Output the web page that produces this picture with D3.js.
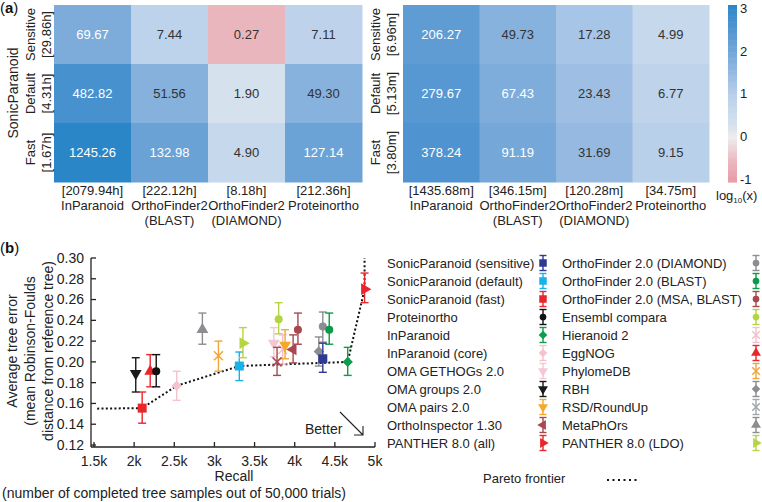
<!DOCTYPE html>
<html><head><meta charset="utf-8">
<script src="https://cdn.jsdelivr.net/npm/d3@7"></script>
<style>body{margin:0;background:#fff} svg{font-family:"Liberation Sans",Arial,Helvetica,sans-serif}</style>
</head><body><svg id="c" width="762" height="502"></svg>
<script>
// ---------- DATA ----------
const rowNames = ["Sensitive", "Default", "Fast"];
const colNames = [["InParanoid"], ["OrthoFinder2", "(BLAST)"], ["OrthoFinder2", "(DIAMOND)"], ["Proteinortho"]];
const leftRowTimes = ["[29.86h]", "[4.31h]", "[1.67h]"];
const leftColTimes = ["[2079.94h]", "[222.12h]", "[8.18h]", "[212.36h]"];
const leftValues = [[69.67, 7.44, 0.27, 7.11], [482.82, 51.56, 1.90, 49.30], [1245.26, 132.98, 4.90, 127.14]];
const rightRowTimes = ["[6.96m]", "[5.13m]", "[3.80m]"];
const rightColTimes = ["[1435.68m]", "[346.15m]", "[120.28m]", "[34.75m]"];
const rightValues = [[206.27, 49.73, 17.28, 4.99], [279.67, 67.43, 23.43, 6.77], [378.24, 91.19, 31.69, 9.15]];
const colorTicks = [-1, 0, 1, 2, 3];

const legendCol1 = ["SonicParanoid (sensitive)", "SonicParanoid (default)", "SonicParanoid (fast)", "Proteinortho", "InParanoid", "InParanoid (core)", "OMA GETHOGs 2.0", "OMA groups 2.0", "OMA pairs 2.0", "OrthoInspector 1.30", "PANTHER 8.0 (all)"];
const legendCol2 = ["OrthoFinder 2.0 (DIAMOND)", "OrthoFinder 2.0 (BLAST)", "OrthoFinder 2.0 (MSA, BLAST)", "Ensembl compara", "Hieranoid 2", "EggNOG", "PhylomeDB", "RBH", "RSD/RoundUp", "MetaPhOrs", "PANTHER 8.0 (LDO)"];
const legendMarkers1 = ["navySquare", "cyanSquare", "redSquare", "blackCircle", "greenDiamond", "pinkDiamond", "paleDown", "blackDown", "orangeDown", "brownLeft", "redRight"];
const legendMarkers2 = ["greyCircle", "greenCircle", "brownCircle", "ygCircle", "pinkX", "redUp", "orangeX", "greyDiamond", "greyX", "greyUp", "ygRight"];

const pointMarker = ["blackDown", "redUp", "blackCircle", "redSquare", "pinkDiamond", "greyUp", "orangeX", "cyanSquare", "ygRight", "ygCircle", "paleDown", "pinkX", "orangeDown", "brownX", "brownLeft", "brownCircle", "greyCircle", "greenCircle", "greyDiamond", "navySquare", "greenDiamond", "redRight"];
const pointRecall = [2020, 2200, 2275, 2100, 2530, 2850, 3050, 3310, 3355, 3800, 3740, 3850, 3880, 3780, 3980, 4040, 4350, 4430, 4300, 4350, 4660, 4870];
const pointError = [0.189, 0.191, 0.191, 0.1555, 0.177, 0.231, 0.206, 0.196, 0.218, 0.241, 0.218, 0.212, 0.216, 0.200, 0.212, 0.231, 0.234, 0.231, 0.210, 0.203, 0.200, 0.270];
const pointErrLow = [0.171, 0.176, 0.176, 0.141, 0.163, 0.217, 0.191, 0.182, 0.204, 0.227, 0.205, 0.198, 0.203, 0.187, 0.199, 0.217, 0.219, 0.217, 0.196, 0.190, 0.187, 0.257];
const pointErrHigh = [0.204, 0.207, 0.207, 0.171, 0.191, 0.247, 0.220, 0.2095, 0.233, 0.257, 0.233, 0.226, 0.231, 0.214, 0.226, 0.247, 0.248, 0.247, 0.224, 0.218, 0.214, 0.2855];

const paretoRecall = [1540, 2100, 2530, 3310, 4660, 4870, 4870];
const paretoError = [0.155, 0.1555, 0.177, 0.196, 0.200, 0.270, 0.300];

const xTicks = [1500, 2000, 2500, 3000, 3500, 4000, 4500, 5000];
const yTicks = [0.12, 0.14, 0.16, 0.18, 0.20, 0.22, 0.24, 0.26, 0.28, 0.30];

// ---------- STYLES ----------
const markerStyles = {
  navySquare: ["square", "#2d3a92"], cyanSquare: ["square", "#19b1ea"], redSquare: ["square", "#e8262b"],
  blackCircle: ["circle", "#111111"], greenDiamond: ["diamond", "#0e9d4c"], pinkDiamond: ["diamond", "#f5c3cd"],
  paleDown: ["down", "#f4c8d2"], blackDown: ["down", "#1a1a1a"], orangeDown: ["down", "#f5a82a"],
  brownLeft: ["left", "#a8474f"], redRight: ["right", "#e8262b"],
  greyCircle: ["circle", "#8b8d90"], greenCircle: ["circle", "#0a9a48"], brownCircle: ["circle", "#a8474f"],
  ygCircle: ["circle", "#b3d443"], pinkX: ["x", "#f2bfcb"], redUp: ["up", "#e8262b"], orangeX: ["x", "#f1a43c"],
  greyDiamond: ["diamond", "#8b8d90"], greyX: ["x", "#a2a6ab"], greyUp: ["up", "#8b8d90"], ygRight: ["right", "#b5d543"],
  brownX: ["x", "#a8474f"]
};

function shapePath(shape, s) {
  const r = s / 2;
  if (shape === "square") return d3.symbol(d3.symbolSquare, s * s)();
  if (shape === "circle") return d3.symbol(d3.symbolCircle, Math.PI * r * r * 0.8)();
  if (shape === "diamond") { const h = r * 1.15; return `M0,${-h}L${h},0L0,${h}L${-h},0Z`; }
  if (shape === "x") return `M${-r},${-r}L${r},${r}M${-r},${r}L${r},${-r}`;
  const tri = d3.symbol(d3.symbolTriangle, s * s * 0.75)();
  return tri;
}
function shapeRotate(shape) {
  return shape === "down" ? 180 : shape === "left" ? -90 : shape === "right" ? 90 : 0;
}

const svg = d3.select("#c");
const FONT = 13;

// ---------- HEATMAPS ----------
const cmap = d3.scaleLinear()
  .domain([-1.05, -0.57, 0, 0.28, 0.7, 1, 1.5, 2, 2.5, 3, 3.1])
  .range(["#e79aa7", "#eab6bd", "#eeedef", "#d6e1ee", "#c5d8ec", "#b7cfea", "#95b9e1", "#72a6d8", "#5496d1", "#3189c8", "#2a86c6"]);

function heatmap(x0, x1, values, rowTimes, colTimes, rowLabelX) {
  const xs = d3.scaleBand().domain(d3.range(4)).range([x0, x1]);
  const ys = d3.scaleBand().domain(d3.range(3)).range([5, 182]);
  const g = svg.append("g");
  values.forEach((row, i) => row.forEach((v, j) => {
    const lv = Math.log10(v);
    g.append("rect").attr("x", xs(j)).attr("y", ys(i)).attr("width", xs.bandwidth() + 0.5).attr("height", ys.bandwidth() + 0.5)
      .attr("fill", cmap(lv));
    g.append("text").attr("x", xs(j) + xs.bandwidth() / 2).attr("y", ys(i) + ys.bandwidth() / 2).attr("dy", "0.35em")
      .attr("text-anchor", "middle").attr("font-size", FONT).attr("fill", lv > 1.75 ? "#ffffff" : "#333333").text(v.toFixed(2));
  }));
  rowNames.forEach((n, i) => {
    const yc = ys(i) + ys.bandwidth() / 2;
    g.append("text").attr("transform", `translate(${rowLabelX},${yc}) rotate(-90)`).attr("dy", "0.35em")
      .attr("text-anchor", "middle").attr("font-size", FONT).attr("fill", "#222").text(n);
    g.append("text").attr("transform", `translate(${rowLabelX + 16},${yc}) rotate(-90)`).attr("dy", "0.35em")
      .attr("text-anchor", "middle").attr("font-size", FONT).attr("fill", "#222").text(rowTimes[i]);
  });
  colTimes.forEach((t, j) => {
    const xc = xs(j) + xs.bandwidth() / 2;
    const lines = [t].concat(colNames[j]);
    lines.forEach((ln, k) => {
      g.append("text").attr("x", xc).attr("y", 194.5 + k * 15).attr("text-anchor", "middle")
        .attr("font-size", FONT).attr("fill", "#222").text(ln);
    });
  });
}
heatmap(54, 362, leftValues, leftRowTimes, leftColTimes, 30);
heatmap(403, 709, rightValues, rightRowTimes, rightColTimes, 375);

svg.append("text").attr("transform", "translate(13,93) rotate(-90)").attr("dy", "0.35em").attr("text-anchor", "middle")
  .attr("font-size", 14).attr("fill", "#222").text("SonicParanoid");

// colorbar
const cbY = d3.scaleLinear().domain([-1.05, 3.07]).range([182, 5]);
const cbSteps = d3.range(-1.05, 3.07, 0.02);
svg.append("g").selectAll("rect").data(cbSteps).join("rect")
  .attr("x", 728).attr("width", 9).attr("y", d => cbY(d + 0.02)).attr("height", d => cbY(d) - cbY(d + 0.02) + 0.6)
  .attr("fill", d => cmap(d + 0.01));
svg.append("g").selectAll("text").data(colorTicks).join("text")
  .attr("x", 740).attr("y", d => cbY(d)).attr("dy", "0.35em").attr("font-size", FONT).attr("fill", "#222")
  .text(d => d < 0 ? "-" + Math.abs(d) : d);
const lg = svg.append("text").attr("x", 716).attr("y", 200).attr("font-size", FONT).attr("fill", "#222");
lg.append("tspan").text("log");
lg.append("tspan").attr("font-size", 8).attr("dy", 3).text("10");
lg.append("tspan").attr("dy", -3).text("(x)");

// panel labels
function panelLabel(y, letter) {
  const t = svg.append("text").attr("x", 0).attr("y", y).attr("font-size", 15).attr("fill", "#111");
  t.append("tspan").text("(");
  t.append("tspan").attr("font-weight", "bold").text(letter);
  t.append("tspan").text(")");
}
panelLabel(13, "a");
panelLabel(253, "b");

// ---------- SCATTER ----------
const x = d3.scaleLinear().domain([1500, 5000]).range([94, 375]);
const y = d3.scaleLinear().domain([0.12, 0.30]).range([445, 258]);

const ax = svg.append("g").attr("stroke", "#222").attr("stroke-width", 1.3).attr("fill", "none");
ax.append("line").attr("x1", 91).attr("x2", 91).attr("y1", y(0.30)).attr("y2", 447);
ax.append("line").attr("x1", 91).attr("x2", x(5000)).attr("y1", 447).attr("y2", 447);
yTicks.forEach(t => {
  ax.append("line").attr("x1", 91).attr("x2", 96).attr("y1", y(t)).attr("y2", y(t));
});
xTicks.forEach(t => {
  ax.append("line").attr("x1", x(t)).attr("x2", x(t)).attr("y1", 447).attr("y2", 442);
});
svg.append("g").selectAll("text").data(yTicks).join("text")
  .attr("x", 84).attr("y", d => y(d)).attr("dy", "0.35em").attr("text-anchor", "end").attr("font-size", 14).attr("fill", "#222")
  .text(d => d.toFixed(2));
svg.append("g").selectAll("text").data(xTicks).join("text")
  .attr("x", d => x(d)).attr("y", 466).attr("text-anchor", "middle").attr("font-size", 14).attr("fill", "#222")
  .text(d => (d / 1000) + "k");

["Average tree error", "(mean Robinson-Foulds", "distance from reference tree)"].forEach((t, i) => {
  svg.append("text").attr("transform", `translate(${12 + i * 18},351) rotate(-90)`).attr("dy", "0.35em")
    .attr("text-anchor", "middle").attr("font-size", 14).attr("fill", "#222").text(t);
});
svg.append("text").attr("x", 234).attr("y", 481).attr("text-anchor", "middle").attr("font-size", 14).attr("fill", "#222").text("Recall");
svg.append("text").attr("x", 2).attr("y", 498).attr("font-size", 14).attr("fill", "#222").text("(number of completed tree samples out of 50,000 trials)");

// Better arrow
svg.append("text").attr("x", 305).attr("y", 434).attr("font-size", 14).attr("fill", "#222").text("Better");
svg.append("path").attr("d", "M340,412L363,435M354,435L363,435L363,426").attr("stroke", "#222").attr("stroke-width", 1.1).attr("fill", "none");

// pareto frontier
const pareto = d3.line().x((d, i) => x(paretoRecall[i])).y((d, i) => y(paretoError[i]));
svg.append("path").attr("d", pareto(paretoRecall)).attr("fill", "none").attr("stroke", "#111")
  .attr("stroke-width", 2).attr("stroke-dasharray", "2,2.3");

function drawMarker(g, cx, cy, key, size, errTop, errBot, cap) {
  const [shape, color] = markerStyles[key];
  const m = g.append("g").attr("transform", `translate(${cx},${cy})`);
  m.append("line").attr("x1", 0).attr("x2", 0).attr("y1", errTop - cy).attr("y2", errBot - cy).attr("stroke", color).attr("stroke-width", 1.4);
  [errTop, errBot].forEach(e => m.append("line").attr("x1", -cap / 2).attr("x2", cap / 2).attr("y1", e - cy).attr("y2", e - cy)
    .attr("stroke", color).attr("stroke-width", 1.4));
  const p = m.append("path").attr("d", shapePath(shape, size)).attr("transform", `rotate(${shapeRotate(shape)})`);
  if (shape === "x") p.attr("fill", "none").attr("stroke", color).attr("stroke-width", 1.5);
  else p.attr("fill", color);
}

const pts = svg.append("g");
pointMarker.forEach((k, i) => {
  drawMarker(pts, x(pointRecall[i]), y(pointError[i]), k, 9, y(pointErrHigh[i]), y(pointErrLow[i]), 8);
});

// legend
const legY = d3.scaleLinear().domain([0, 10]).range([263, 443]);
legendCol1.forEach((t, i) => {
  svg.append("text").attr("x", 387).attr("y", legY(i)).attr("dy", "0.35em").attr("font-size", FONT).attr("fill", "#222").text(t);
  drawMarker(svg, 543, legY(i), legendMarkers1[i], 7.5, legY(i) - 7.5, legY(i) + 7.5, 7);
});
legendCol2.forEach((t, i) => {
  svg.append("text").attr("x", 562).attr("y", legY(i)).attr("dy", "0.35em").attr("font-size", FONT).attr("fill", "#222").text(t);
  drawMarker(svg, 756, legY(i), legendMarkers2[i], 7.5, legY(i) - 7.5, legY(i) + 7.5, 7);
});
svg.append("text").attr("x", 483).attr("y", 478).attr("dy", "0.35em").attr("font-size", FONT).attr("fill", "#222").text("Pareto frontier");
svg.append("line").attr("x1", 607).attr("x2", 640).attr("y1", 480).attr("y2", 480).attr("stroke", "#111")
  .attr("stroke-width", 2).attr("stroke-dasharray", "2,3.5");
</script></body></html>
